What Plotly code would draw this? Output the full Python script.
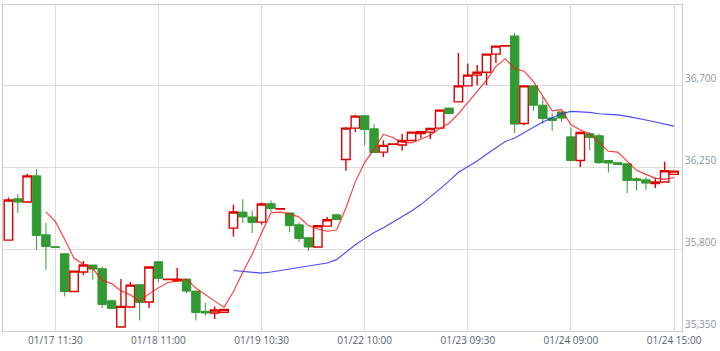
import plotly.graph_objects as go
import pandas as pd

# ---- data ----
days = ["01/17", "01/18", "01/19", "01/22", "01/23", "01/24"]
slots = ["09:00", "09:30", "10:00", "10:30", "11:00", "11:30",
         "12:30", "13:00", "13:30", "14:00", "14:30", "15:00"]
times = [f"{d} {s}" for d in days for s in slots]

open_ = [35849, 36076, 36058, 36202, 35878, 35812, 35774, 35567, 35674, 35712, 35692, 35516,
         35372, 35482, 35604, 35509, 35730, 35632, 35626, 35635, 35569, 35458, 35449, 35452,
         35915, 36003, 35976, 35948, 36049, 36020, 35998, 35933, 35862, 35811, 35926, 35988,
         36292, 36464, 36532, 36460, 36332, 36375, 36371, 36396, 36434, 36442, 36464, 36574,
         36608, 36696, 36755, 36771, 36870, 36914, 36970, 36489, 36696, 36590, 36519, 36553,
         36416, 36286, 36433, 36422, 36286, 36274, 36268, 36186, 36180, 36160, 36168, 36210]
high = [36083, 36102, 36213, 36239, 35943, 35813, 35774, 35679, 35734, 35712, 35704, 35518,
        35635, 35619, 35604, 35701, 35730, 35634, 35696, 35635, 35569, 35504, 35485, 35468,
        36043, 36074, 36010, 36055, 36067, 36022, 36000, 35946, 35862, 35928, 35976, 35988,
        36470, 36537, 36532, 36488, 36398, 36377, 36433, 36442, 36444, 36462, 36568, 36574,
        36876, 36819, 36810, 36870, 36914, 36916, 36987, 36696, 36696, 36637, 36546, 36553,
        36467, 36445, 36442, 36433, 36286, 36274, 36268, 36195, 36195, 36190, 36279, 36230]
low = [35849, 35998, 36058, 35796, 35686, 35809, 35540, 35564, 35657, 35631, 35476, 35472,
       35372, 35482, 35408, 35476, 35619, 35632, 35626, 35558, 35408, 35434, 35416, 35452,
       35869, 35943, 35888, 35933, 36003, 36020, 35893, 35838, 35789, 35811, 35926, 35962,
       36230, 36442, 36369, 36330, 36305, 36375, 36341, 36396, 36409, 36404, 36464, 36544,
       36608, 36696, 36700, 36700, 36821, 36914, 36437, 36481, 36559, 36488, 36449, 36500,
       36286, 36250, 36341, 36268, 36220, 36262, 36107, 36122, 36125, 36135, 36168, 36210]
close = [36069, 36058, 36202, 35875, 35814, 35810, 35567, 35679, 35712, 35690, 35496, 35474,
         35485, 35602, 35507, 35701, 35639, 35634, 35635, 35569, 35452, 35449, 35465, 35468,
         36003, 35976, 35946, 36047, 36023, 36022, 35929, 35858, 35811, 35928, 35961, 35962,
         36464, 36530, 36456, 36330, 36369, 36377, 36396, 36442, 36444, 36462, 36563, 36544,
         36696, 36755, 36771, 36870, 36914, 36916, 36486, 36696, 36590, 36517, 36506, 36519,
         36286, 36440, 36412, 36274, 36272, 36264, 36176, 36176, 36162, 36169, 36230, 36228]

ma_short_period = 5
ma_long_period = 25

x_tick_labels = ["01/17 11:30", "01/18 11:00", "01/19 10:30", "01/22 10:00",
                 "01/23 09:30", "01/24 09:00", "01/24 15:00"]
y_tick_values = [35350, 35800, 36250, 36700]

# ---- derived ----
s_close = pd.Series(close)
ma_short = s_close.rolling(ma_short_period).mean()
ma_long = s_close.rolling(ma_long_period).mean()

UP = "#dd0000"
DOWN = "#339933"

fig = go.Figure()
fig.add_trace(go.Candlestick(
    x=times, open=open_, high=high, low=low, close=close,
    increasing=dict(line=dict(color=UP, width=1.4), fillcolor="#ffffff"),
    decreasing=dict(line=dict(color=DOWN, width=1), fillcolor=DOWN),
    whiskerwidth=0,
    showlegend=False, hoverinfo="skip",
))
fig.add_trace(go.Scatter(
    x=times, y=ma_long, mode="lines",
    line=dict(color="rgba(40,40,250,0.85)", width=1.1),
    showlegend=False, hoverinfo="skip",
))
fig.add_trace(go.Scatter(
    x=times, y=ma_short, mode="lines",
    line=dict(color="rgba(255,20,20,0.85)", width=1.1),
    showlegend=False, hoverinfo="skip",
))

fig.update_layout(
    width=720, height=351,
    margin=dict(l=3, r=38, t=5, b=20),
    paper_bgcolor="#ffffff",
    plot_bgcolor="#ffffff",
    boxgap=0.1,
    boxgroupgap=0,
    font=dict(family="Open Sans", size=10, color="#556070"),
    xaxis=dict(
        type="category",
        categoryorder="array", categoryarray=times,
        range=[-0.58, 71.85],
        rangeslider=dict(visible=False),
        tickmode="array", tickvals=x_tick_labels, ticktext=x_tick_labels,
        showgrid=True, gridcolor="#dcdcdc", gridwidth=1,
        showline=True, linecolor="#cccccc", linewidth=1, mirror=True,
        ticks="", tickfont=dict(family="Open Sans", size=10, color="#556070"),
        zeroline=False, fixedrange=True,
    ),
    yaxis=dict(
        side="right",
        range=[35350, 37140],
        tickmode="array", tickvals=y_tick_values,
        tickformat=",",
        ticklabelposition="outside top",
        showgrid=True, gridcolor="#dcdcdc", gridwidth=1,
        showline=True, linecolor="#cccccc", linewidth=1, mirror=True,
        ticks="", tickfont=dict(family="Open Sans", size=10, color="#8a94a0"),
        zeroline=False, fixedrange=True,
    ),
)

fig.write_html("out.html")
